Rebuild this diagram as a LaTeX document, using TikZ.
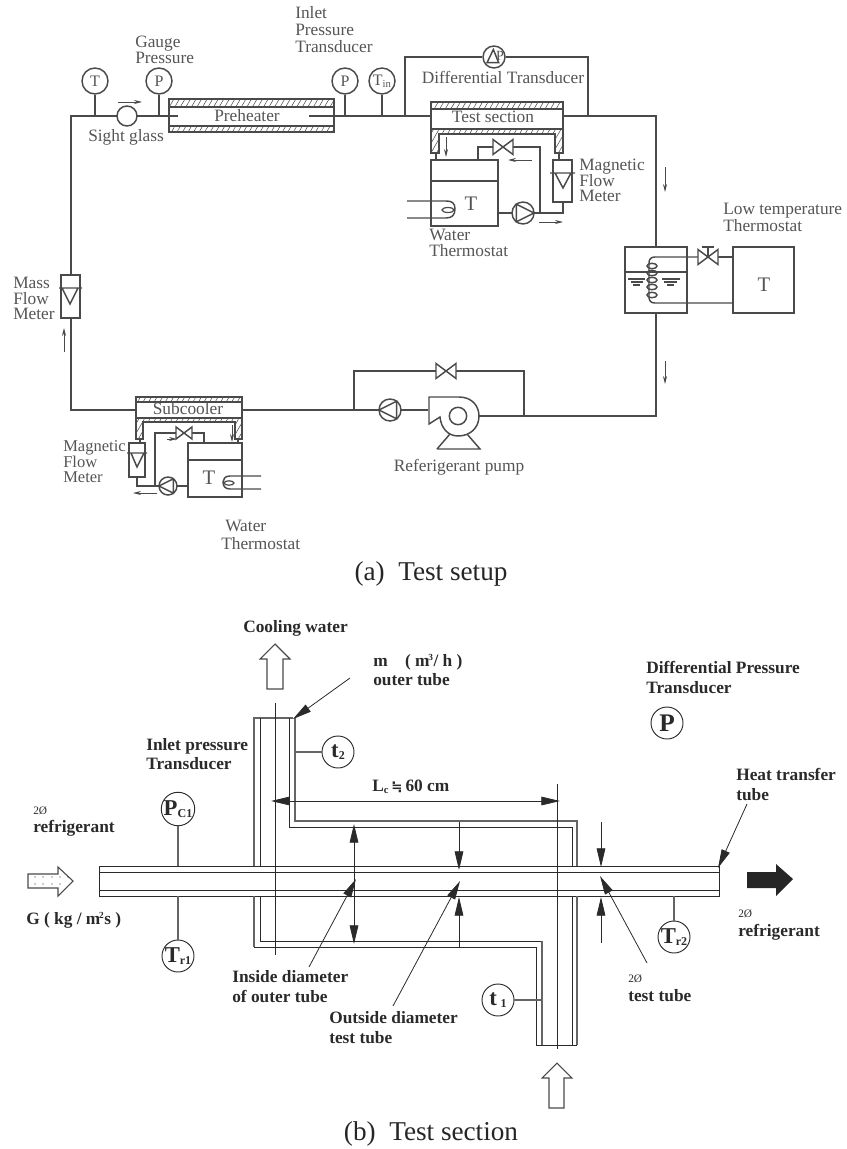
\documentclass[tikz,border=0pt]{standalone}
\usepackage{fontspec}
\setmainfont{Liberation Serif}
\newfontfamily\symfont{DejaVu Sans}
\usetikzlibrary{arrows.meta,patterns.meta}
\definecolor{lineA}{HTML}{4A4A4A}
\definecolor{textA}{HTML}{555555}
\definecolor{lineB}{HTML}{2A2A2A}
\definecolor{textB}{HTML}{2A2A2A}
\newcommand{\bowvalve}[3]{\draw[pipe,fill=white] (#1-#3,#2-#3*.75) -- (#1+#3,#2+#3*.75) -- (#1+#3,#2-#3*.75) -- (#1-#3,#2+#3*.75) -- cycle;}
\newcommand{\rotorR}[3]{\node[pumpc,minimum size=#3*1.5pt] at (#1,#2) {};\draw[pipe] (#1-#3*.6,#2-#3*.8) -- (#1+#3,#2) -- (#1-#3*.6,#2+#3*.8) -- cycle;}
\newcommand{\rotorL}[3]{\node[pumpc,minimum size=#3*1.5pt] at (#1,#2) {};\draw[pipe] (#1+#3*.6,#2-#3*.8) -- (#1-#3,#2) -- (#1+#3*.6,#2+#3*.8) -- cycle;}
\newcommand{\jacketLow}[6]{% x1 x2 y1 y2 ybot leg
  \draw[pipe,hatchfill] (#1,#3) -- (#1,#5) -- (#1+#6,#5) -- (#1+#6,#4) -- (#2-#6,#4) -- (#2-#6,#5) -- (#2,#5) -- (#2,#3) -- cycle;}
\tikzset{
  pipe/.style={draw=lineA,line width=1.1pt,line join=miter},
  thin pipe/.style={draw=lineA,line width=.8pt},
  hatchfill/.style={pattern={Lines[angle=60,distance=3.6pt,line width=.4pt]},pattern color=lineA},
  flow/.style={draw=lineA,line width=.6pt,-{Stealth[length=6pt,width=3pt]}},
  gauge/.style={circle,draw=lineA,line width=1.1pt,minimum size=19.5pt,inner sep=0pt,fill=white,text=textA,font=\fontsize{12}{12}\selectfont},
  pumpc/.style={circle,draw=lineA,line width=1.1pt,inner sep=0pt,fill=white},
  lab/.style={inner sep=0pt,yshift=-.8pt,text=textA,font=\fontsize{13}{13}\selectfont,text height=7.5pt,text depth=2.4pt},
  labw/.style={lab,anchor=west},
  tanktxt/.style={inner sep=0pt,text=textA,font=\fontsize{15.5}{15.5}\selectfont},
  captxt/.style={inner sep=0pt,text=black!85,font=\fontsize{20.4}{20.4}\selectfont},
  tube/.style={draw=lineB,line width=.7pt},
  gtube/.style={draw=lineA!85,line width=.8pt},
  center line/.style={draw=lineB,line width=.7pt},
  dimar/.style={draw=lineB,line width=.6pt,-{Triangle[length=14pt,width=6.5pt]}},
  bl/.style={inner sep=0pt,anchor=west,text=textB,font=\fontsize{13}{13}\bfseries\selectfont,text height=8.5pt,text depth=2.5pt},
  tinytxt/.style={inner sep=0pt,anchor=west,text=textB,font=\fontsize{8.5}{8.5}\selectfont,text height=6pt,text depth=1pt},
  bgauge/.style={circle,draw=lineB,line width=.7pt,minimum size=24pt,inner sep=0pt,fill=white,text=textB,font=\fontsize{17}{17}\bfseries\selectfont},
  blockar/.style={draw=lineA,line width=.8pt,fill=white},
}
\newcommand{\sbt}[1]{\raisebox{-1.5pt}{\fontsize{8}{8}\selectfont #1}}
\newcommand{\sbb}[1]{\raisebox{-2pt}{\fontsize{9}{9}\bfseries\selectfont #1}}
\begin{document}
\begin{tikzpicture}[x=0.75pt,y=-0.75pt]
\useasboundingbox (0,0) rectangle (846,1149);
%%%%% (a) TEST SETUP
\coordinate (corTL) at (71,116);
\coordinate (corBL) at (71,410);
\coordinate (corTR) at (656,116);
\coordinate (corBR) at (656,416);
% instruments
\node[gauge] (gT) at (95,81) {T};
\node[gauge] (gP) at (159,81) {P};
\node[gauge] (gPi) at (345,81) {P};
\node[gauge] (gTin) at (382,81) {T\sbt{in}};
\node[gauge,minimum size=16.5pt] (gDP) at (494,57) {};
\draw[pipe] ([xshift=-5.2pt,yshift=-4.2pt]gDP.center) -- ([xshift=-.5pt,yshift=5.6pt]gDP.center) -- ([xshift=3.5pt,yshift=-4.2pt]gDP.center) -- cycle;
\node[inner sep=0pt,text=textA,font=\fontsize{10.5}{10.5}\selectfont] at (500,56) {P};
% loop
\draw[pipe] (169,116) -- (corTL) -- (71,275);
\draw[pipe] (gT) -- (95,116);
\draw[pipe] (gP) -- (159,116);
\draw[pipe] (gPi) -- (345,116);
\draw[pipe] (gTin) -- (382,116);
\draw[pipe] (334,116) -- (431,116);
\draw[pipe] (405,116) -- (405,57) -- (gDP);
\draw[pipe] (gDP) -- (588,57) -- (588,116);
\draw[pipe] (563,116) -- (corTR) -- (656,247);
\draw[pipe] (656,313) -- (corBR) -- (479,416);
\draw[pipe] (71,318) -- (corBL) -- (136,410);
\draw[pipe] (242,410) -- (428,410);
\draw[pipe] (354,410) -- (354,371) -- (524,371) -- (524,416);
% sight glass
\node[pumpc,minimum size=15pt] (sight) at (127,116) {};
\draw[flow] (118,102) -- (142,102);
% preheater
\draw[pipe,hatchfill] (169,99) rectangle (334,107);
\draw[pipe,hatchfill] (169,126) rectangle (334,132);
\draw[pipe] (169,107) -- (169,126) (334,107) -- (334,126);
\draw[pipe] (169,116) -- (178,116) (309,116) -- (334,116);
\node[lab] at (247,117) {Preheater};
% test section
\draw[pipe,hatchfill] (431,102) rectangle (563,109);
\draw[pipe] (431,109) -- (431,129) (563,109) -- (563,129);
\jacketLow{431}{563}{129}{134}{153}{8}
\node[lab] at (493,118) {Test section};
% water thermostat upper
\draw[pipe] (431,160) rectangle (498,226);
\draw[pipe] (431,181) -- (498,181);
\node[tanktxt] at (471,204) {T};
\draw[pipe] (407,201) -- (446,201) .. controls (452,201) and (455,203) .. (455,209) .. controls (455,215) and (452,218) .. (446,218) -- (407,218);
\draw[pipe,line width=.9pt] (448,210) ellipse (6 and 2.5);
\draw[pipe] (436,153) -- (436,160);
\draw[pipe] (559,153) -- (559,160);
\draw[pipe] (478,160) -- (478,147) -- (540,147) -- (540,213);
\bowvalve{503}{147}{10}
\draw[pipe] (498,213) -- (563,213) -- (563,202);
\rotorR{523}{213}{11}
\draw[pipe,fill=white] (553,160) rectangle (572,202);
\draw[pipe] (550,173) -- (575,173) (555,173) -- (563,188) -- (571,173);
\draw[flow] (446,137) -- (446,157);
\draw[flow] (532,160) -- (508,160);
\draw[flow] (539,222) -- (563,222);
\draw[flow] (665,167) -- (665,192);
\draw[flow] (665,361) -- (665,384);
% low temperature tank
\draw[pipe] (625,247) rectangle (687,313);
\draw[thin pipe] (625,272) -- (687,272);
\draw[pipe] (708,257) -- (655,257) .. controls (651,257) and (649,259) .. (649,263) -- (649,297) .. controls (649,301) and (651,303) .. (655,303) -- (733,303);
\foreach \yy in {266,273,280,287,295} {\draw[pipe] (652,\yy) ellipse (5 and 2.7);}
\draw[thin pipe] (628,279) -- (645,279) (631,282) -- (643,282) (633,285) -- (640,285);
\draw[thin pipe] (662,279) -- (680,279) (664,282) -- (677,282) (667,285) -- (674,285);
\draw[pipe] (708,257) -- (733,257);
\bowvalve{708}{257}{10}
\draw[pipe] (708,257) -- (708,247) (702,247) -- (714,247);
\draw[pipe] (733,247) rectangle (794,313);
\node[tanktxt] at (764,285) {T};
% mass flow meter
\draw[pipe,fill=white] (61,275) rectangle (80,318);
\draw[pipe] (59,288) -- (82,288) (62,288) -- (70,304) -- (78,288);
\draw[flow] (64,352) -- (64,328);
% subcooler
\draw[pipe,hatchfill] (136,397) rectangle (242,402);
\draw[pipe] (136,402) -- (136,418) (242,402) -- (242,418);
\jacketLow{136}{242}{418}{422}{439}{7}
\node[lab] at (188,410) {Subcooler};
\draw[pipe] (188,443) rectangle (242,497);
\draw[pipe] (188,460) -- (242,460);
\node[tanktxt] at (209,478) {T};
\draw[pipe] (261,476) -- (230,476) .. controls (225,476) and (223,479) .. (223,482) .. controls (223,486) and (225,489) .. (230,489) -- (261,489);
\draw[pipe,line width=.9pt] (229,483) ellipse (5 and 2.2);
\draw[pipe] (140,439) -- (140,443);
\draw[pipe] (238,439) -- (238,443);
\draw[pipe] (188,486) -- (137,486) -- (137,477);
\rotorL{168}{486}{9}
\draw[pipe] (155,486) -- (155,433) -- (204,433) -- (204,443);
\bowvalve{184}{433}{8}
\draw[pipe,fill=white] (129,443) rectangle (145,477);
\draw[pipe] (127,453) -- (147,453) (131,453) -- (137,467) -- (144,453);
\draw[flow] (232,425) -- (232,442);
\draw[flow] (167,439) -- (177,439);
\draw[flow] (157,493) -- (133,493);
% refrigerant pump
\bowvalve{446}{371}{10}
\rotorL{390}{410}{11}
\draw[pipe] (437,449) -- (480,449) -- (467,434) (450,434) -- (437,449);
\draw[pipe,fill=white] (429,424) -- (429,397) -- (459,397) .. controls (472,397) and (479,406) .. (479,416) .. controls (479,428) and (470,436) .. (458,436) .. controls (448,436) and (441,428) .. (440,417) -- cycle;
\node[pumpc,minimum size=13pt] (rotor) at (458,416) {};
% labels (a)
\node[labw] (tSight) at (88,137) {Sight glass};
\node[labw] at (135,43) {Gauge};
\node[labw] at (135,59) {Pressure};
\node[labw] at (295,14) {Inlet};
\node[labw] at (295,31) {Pressure};
\node[labw] at (295,48) {Transducer};
\node[lab] at (503,79) {Differential Transducer};
\node[labw] at (579,166) {Magnetic};
\node[labw] at (579,182) {Flow};
\node[labw] at (579,197) {Meter};
\node[labw] at (429,236) {Water};
\node[labw] at (429,252) {Thermostat};
\node[labw] at (723,210) {Low temperature};
\node[labw] at (723,227) {Thermostat};
\node[labw] at (13,284) {Mass};
\node[labw] at (13,300) {Flow};
\node[labw] at (13,315) {Meter};
\node[labw,font=\fontsize{12.4}{12.4}\selectfont] at (63,447) {Magnetic};
\node[labw,font=\fontsize{12.4}{12.4}\selectfont] at (63,463) {Flow};
\node[labw,font=\fontsize{12.4}{12.4}\selectfont] at (63,478) {Meter};
\node[labw] at (225,527) {Water};
\node[labw] at (221,545) {Thermostat};
\node[lab] at (459,467) {Referigerant pump};
\node[captxt] (capA) at (431,574) {(a)~~Test setup};
%%%%% (b) TEST SECTION
% main tube
\draw[tube] (99,866) rectangle (719,896);
\draw[tube] (99,872) -- (719,872) (99,890) -- (719,890);
% outer tube
\draw[gtube] (254,866) -- (254,718) -- (293,718);
\draw[tube] (260,718) -- (260,866);
\draw[tube] (289,718) -- (289,827) -- (572,827) -- (572,866);
\draw[gtube] (295,718) -- (295,821) -- (577,821) -- (577,866);
\draw[gtube] (254,896) -- (254,947);
\draw[tube] (254,947) -- (536,947) -- (536,1045);
\draw[tube] (260,896) -- (260,941) -- (542,941);
\draw[gtube] (542,941) -- (542,1045);
\draw[tube] (572,896) -- (572,1045);
\draw[gtube] (577,896) -- (577,1045);
\draw[tube] (536,1045) -- (577,1045);
% centre lines
\draw[center line] (275,703) -- (275,955);
\draw[center line] (557,784) -- (557,1049);
% instruments
\node[bgauge,font=\fontsize{17}{17}\bfseries\selectfont] (t2) at (338,752) {t\sbb{2}};
\node[bgauge] (Pc1) at (178,809) {P\sbb{C1}};
\node[bgauge] (Tr1) at (178,956) {T\sbb{r1}};
\node[bgauge,font=\fontsize{19}{19}\bfseries\selectfont] (P2) at (667,723) {P};
\node[bgauge] (Tr2) at (674,937) {T\sbb{r2}};
\node[bgauge,font=\fontsize{17}{17}\bfseries\selectfont] (t1) at (498,1000) {t\,\sbb{1}};
\draw[gtube] (t2) -- (295,752);
\draw[gtube] (Pc1) -- (178,866);
\draw[gtube] (Tr1) -- (178,896);
\draw[gtube] (Tr2) -- (674,896);
\draw[gtube] (t1) -- (542,1000);
% dimensions
\draw[dimar] (557,801) -- (271,801);
\draw[dimar] (275,801) -- (560,801);
\draw[dimar] (354,885) -- (354,824);
\draw[dimar] (354,885) -- (354,944);
\draw[dimar] (459,822) -- (459,870);
\draw[dimar] (459,948) -- (459,897);
\draw[dimar] (601,822) -- (601,867);
\draw[dimar] (601,943) -- (601,897);
% leaders
\coordinate (mEnd) at (350,678);
\coordinate (hEnd) at (747,804);
\coordinate (iEnd) at (309,967);
\coordinate (oEnd) at (393,1006);
\coordinate (tEnd) at (647,963);
\draw[dimar] (mEnd) -- (293,719);
\draw[dimar] (hEnd) -- (718,868);
\draw[dimar] (iEnd) -- (356,879);
\draw[dimar] (oEnd) -- (460,881);
\draw[dimar] (tEnd) -- (600,876);
% block arrows
\draw[blockar] (275,644) -- (290,659) -- (283,659) -- (283,689) -- (267,689) -- (267,659) -- (260,659) -- cycle;
\draw[blockar] (557,1063) -- (572,1078) -- (564,1078) -- (564,1108) -- (549,1108) -- (549,1078) -- (542,1078) -- cycle;
\draw[blockar] (73,881) -- (58,867) -- (58,874) -- (28,874) -- (28,888) -- (58,888) -- (58,896) -- cycle;
\foreach \xx in {35,43,52,60,68} {\fill[lineB] (\xx,877) circle (.6);}
\foreach \xx in {35,43,52,60} {\fill[lineB] (\xx,884) circle (.6);}
\fill[black!85] (793,879) -- (776,864) -- (776,872) -- (747,872) -- (747,888) -- (776,888) -- (776,896) -- cycle;
% labels (b)
\node[bl] at (243,628) {Cooling water};
\node[bl] at (373,662) {m\hspace{1em}( m\hspace{-1pt}\textsuperscript{\fontsize{7}{7}\selectfont 3}/ h )};
\node[bl] at (373,681) {outer tube};
\node[bl] at (146,746) {Inlet pressure};
\node[bl] at (146,765) {Transducer};
\node[bl] at (646,669) {Differential Pressure};
\node[bl] at (646,689) {Transducer};
\node[tinytxt] at (33,811) {2Ø};
\node[bl] at (33,828) {refrigerant};
\node[bl] at (26,920) {G ( kg / m\hspace{-1pt}\textsuperscript{\fontsize{7}{7}\selectfont 2}s )};
\node[bl] at (372,787) {L\raisebox{-1.5pt}{\fontsize{8}{8}\selectfont c}\,{\symfont\fontsize{10}{10}\selectfont ≒}\,60 cm};
\node[bl] at (736,776) {Heat transfer};
\node[bl] at (736,796) {tube};
\node[bl] at (232,978) {Inside diameter};
\node[bl] at (232,998) {of outer tube};
\node[bl] at (329,1019) {Outside diameter};
\node[bl] at (329,1039) {test tube};
\node[tinytxt] at (628,979) {2Ø};
\node[bl] at (628,997) {test tube};
\node[tinytxt] at (738,914) {2Ø};
\node[bl] at (738,932) {refrigerant};
\node[captxt] (capB) at (431,1134) {(b)~~Test section};
\end{tikzpicture}
\end{document}
